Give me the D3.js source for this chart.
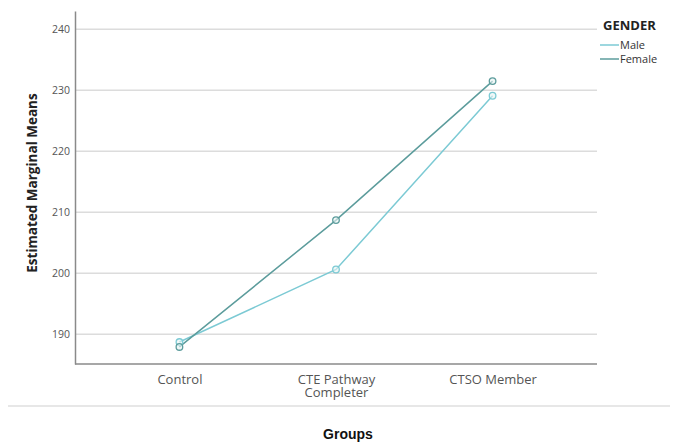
<!DOCTYPE html>
<html>
<head>
<meta charset="utf-8">
<script src="https://cdn.jsdelivr.net/npm/d3@7"></script>
<style>
  body { margin: 0; background: #fff; }
  svg { font-family: "Open Sans", "DejaVu Sans", sans-serif; }
  .grid line { stroke: #dcdcdc; stroke-width: 1.5; }
  .tick text { fill: #555; }
</style>
</head>
<body>
<svg width="678" height="447"></svg>
<script>
// **** data ****
var groups = ['Control', 'CTE Pathway\nCompleter', 'CTSO Member'];
var maleMeans = [188.7, 200.6, 229.1];
var femaleMeans = [187.9, 208.7, 231.5];
var yTicks = [190, 200, 210, 220, 230, 240];
var seriesNames = ['Male', 'Female'];
var seriesColors = ['#7ccad4', '#5c9c9c'];

// **** scales ****
var xScale = d3.scalePoint()
    .domain(groups).range([75, 597]).padding(0.667);

var yScale = d3.scaleLinear()
    .domain([185.1, 243]).range([364, 11]);

var svg = d3.select('svg');

// gridlines
svg.append('g').attr('class', 'grid')
    .selectAll('line').data(yTicks).enter().append('line')
    .attr('x1', 76).attr('x2', 597)
    .attr('y1', function(d){ return yScale(d); })
    .attr('y2', function(d){ return yScale(d); });

// y axis
var yAxis = svg.append('g').attr('class', 'y axis')
    .attr('transform', 'translate(75,0)')
    .call(d3.axisLeft(yScale).tickValues(yTicks).tickSize(0).tickPadding(5))
    .attr('font-family', null);
yAxis.select('.domain').attr('stroke', '#8a8a8a').attr('stroke-width', 1.5);
yAxis.selectAll('text').style('font-size', '10.5px');

// x axis
var xAxis = svg.append('g').attr('class', 'x axis')
    .attr('transform', 'translate(0,364)')
    .call(d3.axisBottom(xScale).tickSize(0).tickFormat(''))
    .attr('font-family', null);
xAxis.select('.domain').attr('d', 'M75,0H597').attr('stroke', '#8a8a8a').attr('stroke-width', 1.5);

xAxis.selectAll('.tick').each(function(d){
    var lines = d.split('\n');
    var t = d3.select(this).append('text')
        .attr('fill', '#2e2e2e')
        .style('font-size', '13px')
        .attr('text-anchor', 'middle');
    lines.forEach(function(l, i){
        t.append('tspan').attr('x', 0).attr('y', 20 + i * 13).text(l);
    });
});

// rule below plot
svg.append('line')
    .attr('x1', 8).attr('x2', 670).attr('y1', 406).attr('y2', 406)
    .attr('stroke', '#cfcfcf').attr('stroke-width', 1.2);

// axis titles
svg.append('text')
    .text('Estimated Marginal Means')
    .attr('font-weight', 'bold').style('font-size', '13.5px')
    .attr('fill', '#222').attr('text-anchor', 'middle')
    .attr('transform', 'translate(37,183) rotate(-90)');

svg.append('text')
    .text('Groups')
    .attr('font-weight', 'bold').style('font-size', '14px')
    .style('font-family', '"Liberation Sans", Arial, sans-serif')
    .attr('fill', '#111').attr('text-anchor', 'middle')
    .attr('x', 348).attr('y', 439);

// lines and points
var series = [maleMeans, femaleMeans];
var line = d3.line()
    .x(function(d, i){ return xScale(groups[i]); })
    .y(function(d){ return yScale(d); });

series.forEach(function(vals, s){
    svg.append('path')
        .attr('d', line(vals))
        .attr('fill', 'none')
        .attr('stroke', seriesColors[s])
        .attr('stroke-width', 1.5);
});

series.forEach(function(vals, s){
    svg.append('g').selectAll('circle').data(vals).enter().append('circle')
        .attr('cx', function(d, i){ return xScale(groups[i]); })
        .attr('cy', function(d){ return yScale(d); })
        .attr('r', 3.3)
        .attr('fill', '#e8f4f4')
        .attr('fill-opacity', 0.6)
        .attr('stroke', seriesColors[s])
        .attr('stroke-width', 1.3);
});

// legend
var legend = svg.append('g').attr('transform', 'translate(600,0)');
legend.append('text')
    .text('GENDER').attr('x', 3).attr('y', 30)
    .attr('font-weight', 'bold').style('font-size', '13px').attr('fill', '#222');

seriesNames.forEach(function(name, i){
    var y = 45 + i * 14;
    legend.append('line')
        .attr('x1', 0).attr('x2', 19).attr('y1', y).attr('y2', y)
        .attr('stroke', seriesColors[i]).attr('stroke-width', 1.5);
    legend.append('text')
        .text(name).attr('x', 20).attr('y', y + 4)
        .style('font-size', '11px').attr('fill', '#333');
});
</script>
</body>
</html>
